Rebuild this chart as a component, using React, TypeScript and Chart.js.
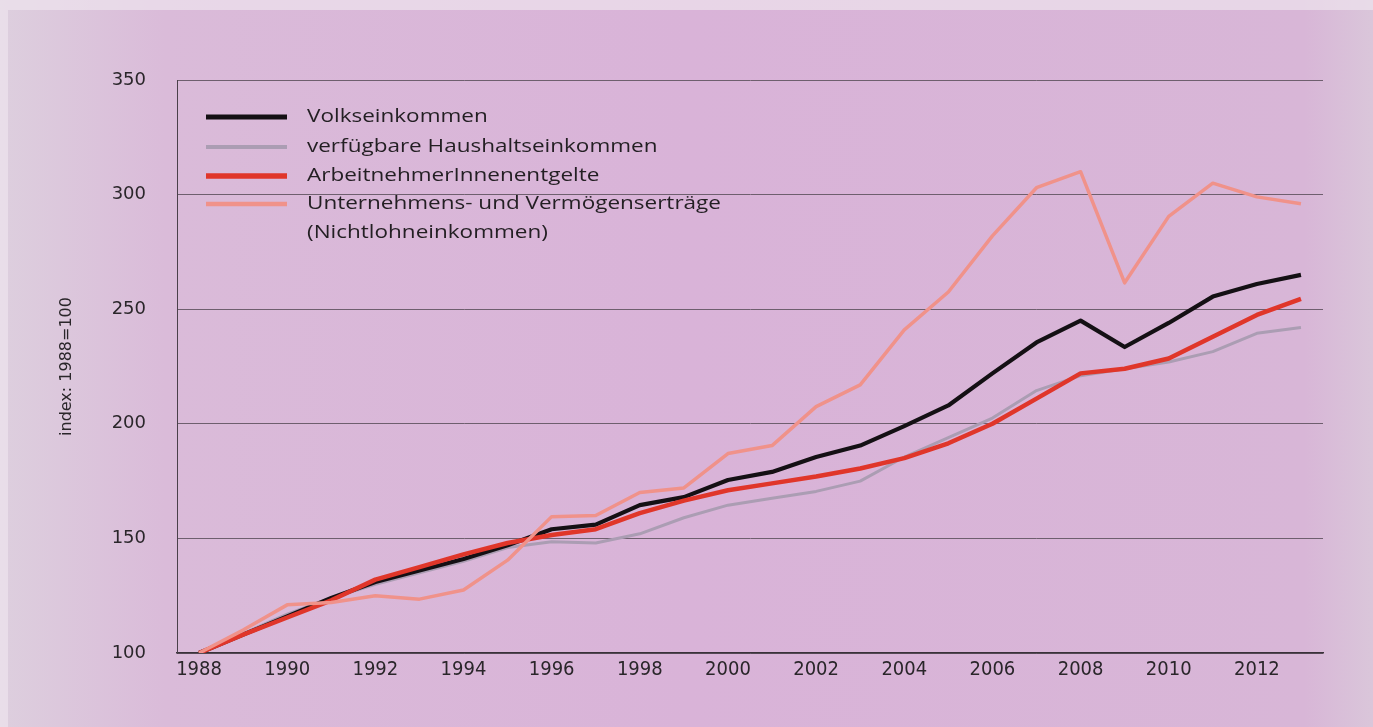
import React, { useEffect, useRef } from "react";
import { Chart, registerables } from "chart.js";

Chart.register(...registerables);

const years = [
  "1988", "1989", "1990", "1991", "1992", "1993", "1994", "1995", "1996", "1997",
  "1998", "1999", "2000", "2001", "2002", "2003", "2004", "2005", "2006", "2007",
  "2008", "2009", "2010", "2011", "2012", "2013",
];

const volkseinkommen = [
  100, 108, 116, 124, 131, 136, 141, 147, 154, 156, 164.5, 168, 175.5, 179, 185.5,
  190.5, 199, 208, 222, 235.5, 245, 233.5, 244, 255.5, 261, 265,
];

const haushaltseinkommen = [
  100, 108.5, 117, 124, 130, 135, 140, 146, 148.5, 148, 152, 159, 164.5, 167.5, 170.5,
  175, 185.5, 194, 202.5, 214.5, 221, 224, 227, 231.5, 239.5, 242,
];

const arbeitnehmerentgelte = [
  100, 108, 115.5, 123, 132, 137.5, 143, 148, 151.5, 154, 161, 166.5, 171, 174, 177,
  180.5, 185, 191.5, 200, 211, 222, 224, 228.5, 238, 247.5, 254.5,
];

const unternehmensertraege = [
  100, 110, 121, 122, 125, 123.5, 127.5, 140.5, 159.5, 160, 170, 172, 187, 190.5, 207.5,
  217, 241, 257.5, 282, 303, 310, 261.5, 290.5, 305, 299, 296,
];

const yTicks = [100, 150, 200, 250, 300, 350];

const seriesLabels = [
  ["Volkseinkommen"],
  ["verfügbare Haushaltseinkommen"],
  ["ArbeitnehmerInnenentgelte"],
  ["Unternehmens- und Vermögenserträge", "(Nichtlohneinkommen)"],
];

const seriesColors = ["#141014", "#ab9db3", "#e0362a", "#f0928a"];
const seriesWidths = [4.2, 3, 4.5, 3.5];
const legendWidths = [5, 4, 5.5, 4.5];

const backgroundPlugin = {
  id: "bgPlugin",
  beforeDraw(chart: any) {
    const { ctx, width, height } = chart;
    ctx.save();
    const g = ctx.createLinearGradient(0, 0, width, 0);
    g.addColorStop(0, "#ddcfde");
    g.addColorStop(0.12, "#dabbd9");
    g.addColorStop(0.5, "#d9b3d8");
    g.addColorStop(0.95, "#d8b6d7");
    g.addColorStop(1, "#dac6da");
    ctx.fillStyle = g;
    ctx.fillRect(0, 0, width, height);
    ctx.fillStyle = "rgba(238,228,238,0.7)";
    ctx.fillRect(0, 0, width, 10);
    ctx.fillRect(0, 10, 8, height - 10);
    ctx.restore();
  },
};

const legendPlugin = {
  id: "customLegend",
  afterDraw(chart: any) {
    const { ctx } = chart;
    ctx.save();
    const rows = [117, 147, 176, 204];
    ctx.font = '18px "Open Sans"';
    ctx.textBaseline = "middle";
    ctx.textAlign = "left";
    seriesLabels.forEach((lines, i) => {
      const y = rows[i];
      ctx.strokeStyle = seriesColors[i];
      ctx.lineWidth = legendWidths[i];
      ctx.lineCap = "butt";
      ctx.beginPath();
      ctx.moveTo(206, y);
      ctx.lineTo(287, y);
      ctx.stroke();
      ctx.fillStyle = "#231f23";
      lines.forEach((t, j) => {
        ctx.save();
        ctx.translate(307, y + j * 29);
        ctx.scale(1.25, 1);
        ctx.fillText(t, 0, 0);
        ctx.restore();
      });
    });
    ctx.restore();
  },
};

export default function App() {
  const canvasRef = useRef<HTMLCanvasElement | null>(null);

  useEffect(() => {
    document.body.style.margin = "0";
    const canvas = canvasRef.current;
    if (!canvas) return;
    const series = [
      volkseinkommen,
      haushaltseinkommen,
      arbeitnehmerentgelte,
      unternehmensertraege,
    ];
    const drawOrder = [2, 3, 1, 0];
    const chart = new Chart(canvas, {
      type: "line",
      data: {
        labels: years,
        datasets: series.map((d, i) => ({
          label: seriesLabels[i].join(" "),
          data: d,
          borderColor: seriesColors[i],
          backgroundColor: seriesColors[i],
          borderWidth: seriesWidths[i],
          pointRadius: 0,
          tension: 0,
          fill: false,
          borderJoinStyle: "round" as const,
          order: drawOrder[i],
        })),
      },
      options: {
        responsive: false,
        animation: false,
        layout: { padding: { top: 80, right: 50, bottom: 0, left: 0 } },
        plugins: {
          legend: { display: false },
          tooltip: { enabled: false },
          title: { display: false },
        },
        scales: {
          x: {
            type: "category",
            offset: true,
            afterFit: (scale: any) => {
              scale.height = 74;
            },
            grid: { display: false, drawTicks: false },
            border: { display: true, color: "#3a323a", width: 1.5 },
            ticks: {
              autoSkip: false,
              maxRotation: 0,
              minRotation: 0,
              padding: 5,
              color: "#2a262a",
              font: { family: '"Liberation Sans Narrow", "DejaVu Sans Condensed", sans-serif', size: 20 },
              callback: function (this: any, value: any, index: number) {
                const lbl = years[index];
                return Number(lbl) % 2 === 0 ? lbl : "";
              },
            },
          },
          y: {
            min: yTicks[0],
            max: yTicks[yTicks.length - 1],
            afterFit: (scale: any) => {
              scale.width = 177;
            },
            ticks: {
              stepSize: yTicks[1] - yTicks[0],
              padding: 31,
              color: "#2a262a",
              font: { family: '"DejaVu Sans", sans-serif', size: 18 },
            },
            grid: {
              color: "#6e5f6e",
              lineWidth: 1,
              drawTicks: false,
            },
            border: { display: true, color: "#4a404a", width: 1 },
            title: {
              display: true,
              text: "index: 1988=100",
              color: "#2a262a",
              font: { family: '"DejaVu Sans", sans-serif', size: 16 },
              padding: { top: 57, bottom: 0 },
            },
          },
        },
      },
      plugins: [backgroundPlugin, legendPlugin],
    } as any);
    return () => chart.destroy();
  }, []);

  return (
    <div style={{ position: "absolute", left: 0, top: 0, width: 1373, height: 727 }}>
      <canvas ref={canvasRef} width={1373} height={727} style={{ display: "block" }} />
    </div>
  );
}
